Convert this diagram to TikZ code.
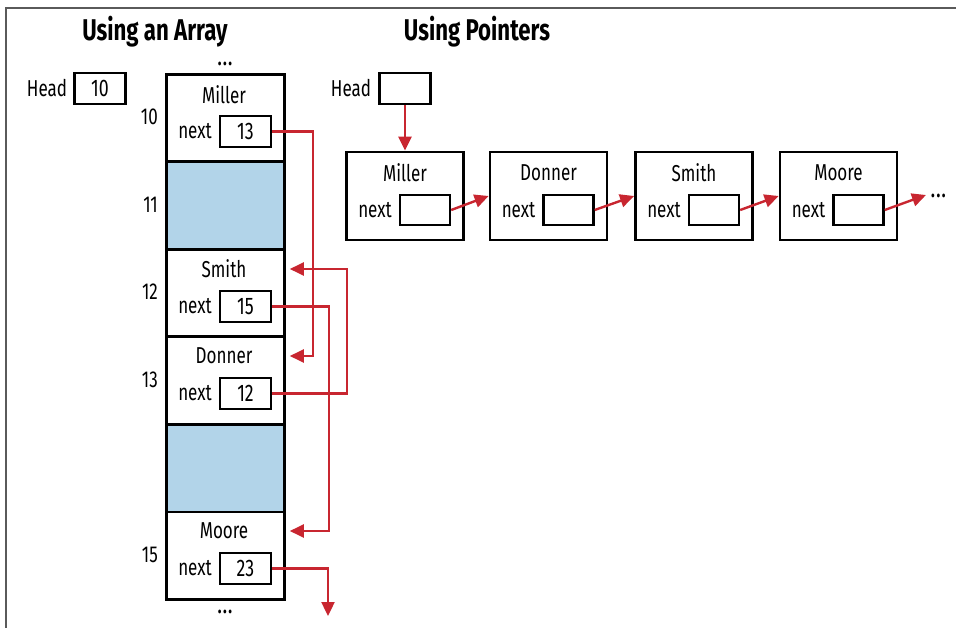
\documentclass[tikz,border=0pt]{standalone}
\usepackage{fontspec}
\setmainfont{Fira Sans}[FakeStretch=0.74]
\usetikzlibrary{arrows.meta}
\definecolor{cellblue}{RGB}{178,212,233}
\definecolor{ptrred}{RGB}{200,38,48}
\definecolor{framegray}{RGB}{90,90,90}
\newcommand{\spdots}{.\kern1.6pt.\kern1.6pt.}
\tikzset{
  cell/.style={draw, line width=2.8pt, minimum width=118pt, minimum height=87.5pt, anchor=north west, inner sep=0pt},
  emptycell/.style={cell, fill=cellblue},
  valbox/.style={draw, line width=2.4pt, minimum width=51pt, minimum height=31pt, inner sep=0pt, font=\fontsize{24}{26}\selectfont},
  pbox/.style={draw, line width=2.8pt, minimum width=117pt, minimum height=88pt, inner sep=0pt},
  lbl/.style={inner sep=0pt, font=\fontsize{23}{25}\selectfont},
  dots/.style={inner sep=0pt, anchor=base, font=\fontsize{21}{25}\selectfont\bfseries},
  ttl/.style={inner sep=0pt, font=\fontsize{30}{32}\selectfont\bfseries},
  ptr/.style={draw=ptrred, line width=2.4pt, -{Triangle[length=14pt,width=13pt]}, color=ptrred},
}
\begin{document}
\begin{tikzpicture}[x=1pt, y=-1pt]
\useasboundingbox (0,0) rectangle (956,628);
\draw[framegray, line width=1.6pt] (6,628) -- (6,8) -- (956,8);

% titles
\node[ttl] (t1) at (155,32) {Using an Array};
\node[ttl] (t2) at (477,32) {Using Pointers};

% array side
\node[lbl] (hl1) at (47,88) {Head};
\node[valbox] (h1) at (100,88.5) {10};
\node[dots] (dtop) at (225,66) {\spdots};
\node[cell] (c10) at (165,73) {};
\node[emptycell] (c11) at (165,160.5) {};
\node[cell] (c12) at (165,248) {};
\node[cell] (c13) at (165,335.5) {};
\node[emptycell] (c14) at (165,423) {};
\node[cell] (c15) at (165,510.5) {};
\node[dots] (dbot) at (225,613) {\spdots};

\node[lbl, anchor=east] (i10) at (158,117) {10};
\node[lbl, anchor=east] (i11) at (158,205) {11};
\node[lbl, anchor=east] (i12) at (158,292) {12};
\node[lbl, anchor=east] (i13) at (158,380) {13};
\node[lbl, anchor=east] (i15) at (158,555) {15};

\node[lbl] (n10) at (224,95) {Miller};
\node[lbl] (x10) at (195,131) {next};
\node[valbox] (v10) at (245.5,131.5) {13};
\node[lbl] (n12) at (224,269) {Smith};
\node[lbl] (x12) at (195,306) {next};
\node[valbox] (v12) at (245.5,306.5) {15};
\node[lbl] (n13) at (224,356) {Donner};
\node[lbl] (x13) at (195,393) {next};
\node[valbox] (v13) at (245.5,393.5) {12};
\node[lbl] (n15) at (224,531) {Moore};
\node[lbl] (x15) at (195,568) {next};
\node[valbox] (v15) at (245.5,568.5) {23};

\coordinate (end23) at (328,616);
\draw[ptr] (v10.east) -- ++(41,0) |- ([xshift=4pt]n13 -| c13.east);
\draw[ptr] (v12.east) -- ++(57,0) |- ([xshift=4pt]n15 -| c15.east);
\draw[ptr] (v13.east) -- ++(75,0) |- ([xshift=4pt]n12 -| c12.east);
\draw[ptr] (v15.east) -| (end23);

% pointer side
\node[lbl] (hl2) at (351,88) {Head};
\node[valbox] (h2) at (405,88.5) {};
\node[pbox] (p1) at (405,196) {};
\node[pbox] (p2) at (548.5,196) {};
\node[pbox] (p3) at (694,196) {};
\node[pbox] (p4) at (838.5,196) {};
\foreach \p/\nm in {p1/Miller,p2/Donner,p3/Smith,p4/Moore}{
  \node[lbl] (\p name) at ([yshift=23pt]\p) {\nm};
  \node[lbl] (\p next) at ([xshift=-30pt,yshift=-14pt]\p) {next};
  \node[valbox, minimum width=50pt, minimum height=30pt] (\p val) at ([xshift=20pt,yshift=-14pt]\p) {};
}
\draw[ptr] (h2.south) -- (p1.north);
\draw[ptr] (p1val.east) -- (p2.west);
\draw[ptr] (p2val.east) -- (p3.west);
\draw[ptr] (p3val.east) -- (p4.west);
\coordinate (pend) at (926,195);
\draw[ptr] (p4val.east) -- (pend);
\node[dots, anchor=base west] (dend) at (931,198) {\spdots};
\end{tikzpicture}
\end{document}
